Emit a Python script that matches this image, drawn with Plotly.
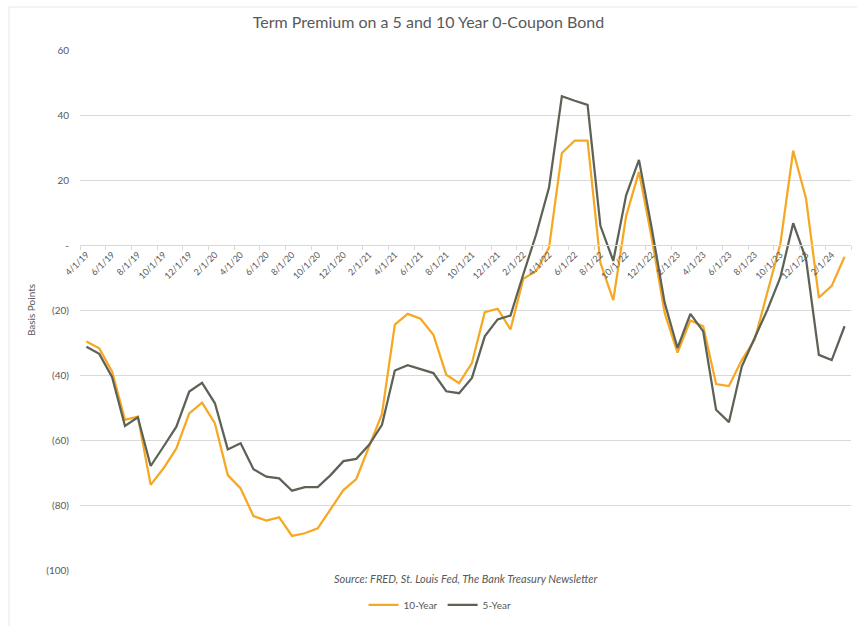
import plotly.graph_objects as go

dates = [
    "4/1/19", "5/1/19", "6/1/19", "7/1/19", "8/1/19", "9/1/19", "10/1/19", "11/1/19", "12/1/19",
    "1/1/20", "2/1/20", "3/1/20", "4/1/20", "5/1/20", "6/1/20", "7/1/20", "8/1/20", "9/1/20",
    "10/1/20", "11/1/20", "12/1/20",
    "1/1/21", "2/1/21", "3/1/21", "4/1/21", "5/1/21", "6/1/21", "7/1/21", "8/1/21", "9/1/21",
    "10/1/21", "11/1/21", "12/1/21",
    "1/1/22", "2/1/22", "3/1/22", "4/1/22", "5/1/22", "6/1/22", "7/1/22", "8/1/22", "9/1/22",
    "10/1/22", "11/1/22", "12/1/22",
    "1/1/23", "2/1/23", "3/1/23", "4/1/23", "5/1/23", "6/1/23", "7/1/23", "8/1/23", "9/1/23",
    "10/1/23", "11/1/23", "12/1/23",
    "1/1/24", "2/1/24", "3/1/24",
]

ten_year = [
    -29.7, -31.8, -39.0, -53.8, -52.8, -73.8, -68.7, -62.6, -51.8, -48.5,
    -54.9, -70.8, -74.9, -83.4, -84.8, -83.8, -89.5, -88.7, -87.2, -81.5,
    -75.4, -72.0, -62.0, -52.0, -24.5, -21.2, -22.7, -27.6, -39.9, -42.5,
    -36.3, -20.7, -19.6, -26.0, -10.4, -8.0, -0.8, 28.3, 32.1, 32.1,
    -5.5, -17.0, 8.9, 22.5, 2.0, -20.9, -33.1, -23.2, -25.0, -42.8,
    -43.4, -35.4, -29.2, -14.7, 0.3, 29.0, 14.3, -16.2, -12.6, -3.6,
]

five_year = [
    -31.3, -33.5, -40.7, -55.7, -53.0, -68.0, -62.0, -55.9, -45.1, -42.4,
    -48.7, -62.9, -61.0, -69.0, -71.3, -71.8, -75.6, -74.5, -74.5, -70.8,
    -66.5, -65.8, -61.5, -55.3, -38.6, -37.0, -38.2, -39.4, -45.0, -45.6,
    -40.9, -28.1, -22.9, -21.7, -9.0, 3.3, 17.7, 45.8, 44.4, 43.1,
    5.9, -4.9, 15.3, 26.2, 5.0, -17.8, -31.7, -21.2, -26.6, -50.7,
    -54.5, -37.4, -28.6, -19.9, -10.0, 6.7, -4.3, -33.8, -35.4, -25.0,
]

y_ticks = [60, 40, 20, 0, -20, -40, -60, -80, -100]
y_tick_text = ["60", "40", "20", "-", "(20)", "(40)", "(60)", "(80)", "(100)"]

ORANGE = "#F7A823"
GRAY = "#5C6356"
TXT = "#595959"
FONT = "Lato, 'Open Sans', sans-serif"

fig = go.Figure()
fig.add_trace(go.Scatter(x=dates, y=ten_year, mode="lines", name="10-Year",
                         line=dict(color=ORANGE, width=2.25)))
fig.add_trace(go.Scatter(x=dates, y=five_year, mode="lines", name="5-Year",
                         line=dict(color=GRAY, width=2.25)))

fig.update_layout(
    width=857, height=626,
    margin=dict(l=80, r=6, t=50, b=56),
    paper_bgcolor="white", plot_bgcolor="white",
    font=dict(family=FONT, color=TXT, size=10),
    title=dict(text="Term Premium on a 5 and 10 Year 0-Coupon Bond",
               x=0.5, xanchor="center", y=1 - 22 / 626, yanchor="middle",
               font=dict(size=16, color=TXT, family=FONT)),
    showlegend=True,
    legend=dict(orientation="h", x=0.467, xanchor="center", y=-0.067, yanchor="middle",
                font=dict(size=10, color=TXT), itemwidth=30, tracegroupgap=0),
    xaxis=dict(
        type="category", range=[-0.5, 59.5],
        anchor="free", position=100 / 160,
        tickmode="linear", tick0=0, dtick=2,
        tickson="boundaries",
        ticks="outside", ticklen=4, tickcolor="#d9d9d9",
        tickangle=-45, tickfont=dict(size=9, color=TXT),
        showline=True, linecolor="#d9d9d9", linewidth=1,
        showgrid=False, zeroline=False,
    ),
    yaxis=dict(
        range=[-100, 60], tickvals=y_ticks, ticktext=y_tick_text,
        showgrid=True, gridcolor="#d9d9d9", gridwidth=1,
        zeroline=False, showline=False,
        tickfont=dict(size=10, color=TXT), ticklabelstandoff=10,
        title=dict(text="Basis Points", font=dict(size=10, color=TXT), standoff=8),
    ),
    annotations=[dict(
        text="<i>Source: FRED, St. Louis Fed, The Bank Treasury Newsletter</i>",
        xref="paper", yref="paper", x=0.5, y=-0.016, xanchor="center", yanchor="middle",
        showarrow=False, font=dict(size=11, color=TXT),
    )],
    shapes=[
        dict(type="line", xref="paper", yref="paper", x0=-71 / 771, x1=1.1,
             y0=1 + 43 / 520, y1=1 + 43 / 520, line=dict(color="#e6e6e6", width=1)),
        dict(type="line", xref="paper", yref="paper", x0=-71 / 771, x1=-71 / 771,
             y0=1 + 43 / 520, y1=-0.2, line=dict(color="#e6e6e6", width=1)),
    ],
)

fig.write_html("out.html")
